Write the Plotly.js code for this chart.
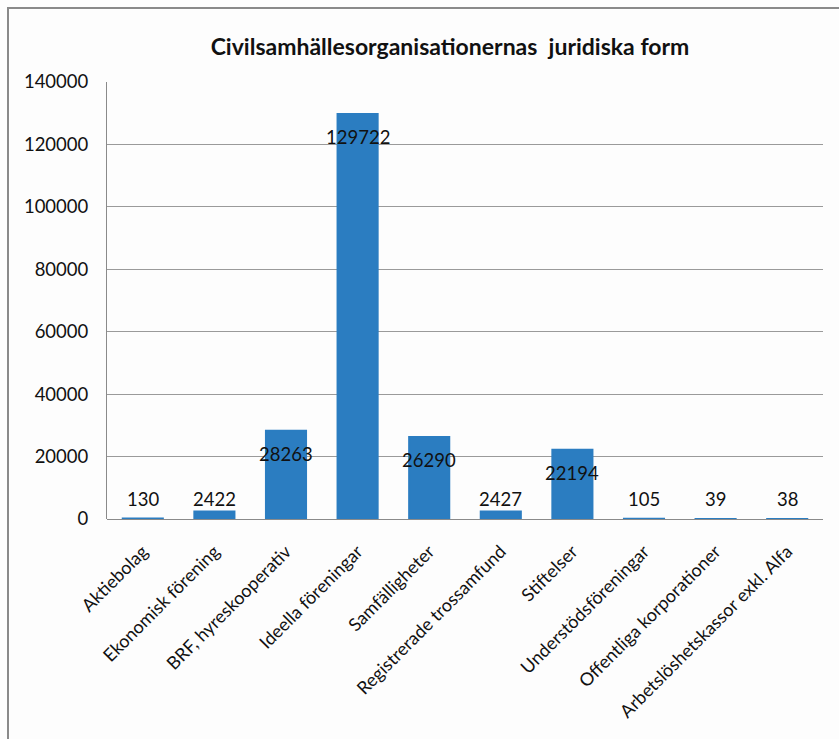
<!DOCTYPE html>
<html>
<head>
<meta charset="utf-8">
<script src="https://cdn.plot.ly/plotly-3.0.1.min.js"></script>
<style>
  html, body { margin: 0; padding: 0; background: #ffffff; overflow: hidden; }
  #chart { width: 839px; height: 739px; }
  #frame { position: absolute; left: 7px; top: 7px; width: 900px; height: 900px;
           border: 2px solid #8a8a8a; pointer-events: none; }
</style>
</head>
<body>
<div id="chart"></div>
<div id="frame"></div>
<script>
const categories = [
  "Aktiebolag",
  "Ekonomisk förening",
  "BRF, hyreskooperativ",
  "Ideella föreningar",
  "Samfälligheter",
  "Registrerade trossamfund",
  "Stiftelser",
  "Understödsföreningar",
  "Offentliga korporationer",
  "Arbetslöshetskassor exkl. Alfa"
];
const values = [130, 2422, 28263, 129722, 26290, 2427, 22194, 105, 39, 38];
const yTicks = [0, 20000, 40000, 60000, 80000, 100000, 120000, 140000];
const chartTitle = "Civilsamhällesorganisationernas&nbsp; juridiska form";

const FONT = "Lato, 'Open Sans', sans-serif";
const BAR = '#2b7dc1';

// Value labels: inside near the top of tall bars, just above the axis for short ones
const annotations = categories.map((c, i) => {
  const v = values[i];
  const tall = v > 14000;
  return {
    x: c, y: tall ? v : 0, xref: 'x', yref: 'y',
    text: String(v), showarrow: false,
    yanchor: 'middle', xanchor: 'center',
    yshift: tall ? -23 : 20,
    font: { family: FONT, size: 18.5, color: '#111111' }
  };
});

const trace = {
  type: 'bar',
  x: categories,
  y: values,
  marker: { color: BAR, line: { color: BAR, width: 2 } },
  hoverinfo: 'x+y'
};

const layout = {
  width: 839, height: 739,
  paper_bgcolor: '#fdfdfd',
  plot_bgcolor: '#fdfdfd',
  margin: { l: 107, r: 16, t: 82, b: 220 },
  bargap: 0.44,
  showlegend: false,
  title: {
    text: chartTitle,
    font: { family: FONT, size: 23, color: '#111111', weight: 'bold' },
    x: 450/839, xanchor: 'center', xref: 'container',
    y: 1 - 47/739, yanchor: 'middle', yref: 'container'
  },
  xaxis: {
    type: 'category',
    tickangle: -45,
    tickfont: { family: FONT, size: 18, color: '#111111' },
    showline: false,
    showgrid: false,
    ticks: 'outside', ticklen: 14, tickcolor: 'rgba(0,0,0,0)',
    zeroline: false
  },
  yaxis: {
    range: [0, 140000],
    tickvals: yTicks,
    ticktext: yTicks.map(String),
    tickfont: { family: FONT, size: 18.5, color: '#111111' },
    showgrid: true, gridcolor: '#9a9a9a', gridwidth: 1,
    zeroline: true, zerolinecolor: '#8a8a8a', zerolinewidth: 1,
    showline: true, linecolor: '#8a8a8a', linewidth: 1,
    ticks: 'outside', ticklen: 14, tickcolor: 'rgba(0,0,0,0)'
  },
  annotations: annotations
};

Plotly.newPlot('chart', [trace], layout, { staticPlot: true, displayModeBar: false });
</script>
</body>
</html>
